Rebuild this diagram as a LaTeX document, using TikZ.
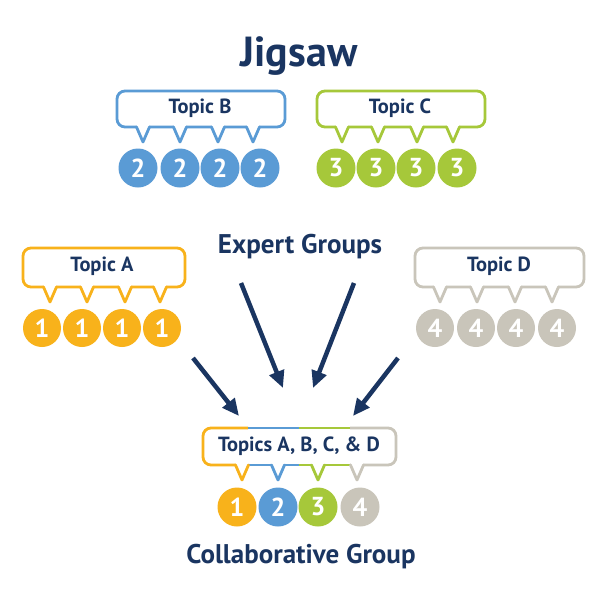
\documentclass[tikz,border=0pt]{standalone}
\usepackage{fontspec}
\setmainfont{PT Sans}
\usetikzlibrary{arrows.meta}
\definecolor{navy}{HTML}{1A3561}
\definecolor{cblue}{HTML}{5A9BD5}
\definecolor{cgreen}{HTML}{A6C83A}
\definecolor{corange}{HTML}{F8B21B}
\definecolor{cgray}{HTML}{C9C5BA}
\newcommand{\mybubble}[6]{%
  \fill[white, rounded corners=8] (#1,#2) rectangle (#3,#4);
  \draw[#5, line width=2.8, rounded corners=8] (#1,#2) rectangle (#3,#4);
  \foreach \t in {#6} {
    \fill[white] ({\t-6},{#4-2}) rectangle ({\t+6},{#4+2});
    \draw[#5, line width=2.8, line cap=round, line join=round] ({\t-6.5},#4) -- (\t,{#4+15}) -- ({\t+6.5},#4);
  }%
}
\newcommand{\mytail}[3]{% x, ybottom, color
  \fill[white] ({#1-6},{#2-2}) rectangle ({#1+6},{#2+2});
  \draw[#3, line width=2.8, line cap=round, line join=round] ({#1-6.5},#2) -- (#1,{#2+15}) -- ({#1+6.5},#2);
}
\begin{document}
\begin{tikzpicture}[x=1pt,y=-1pt,
  lbl/.style={text=navy, font=\bfseries\fontsize{20.5}{22}\selectfont, inner sep=0},
  head/.style={text=navy, font=\bfseries\fontsize{27}{29}\selectfont, inner sep=0, anchor=base},
  num/.style={circle, inner sep=0, minimum size=39, text=white, font=\bfseries\fontsize{26}{27}\selectfont},
  arr/.style={navy, line width=4.5, -{Triangle[length=17,width=15]}}]
\useasboundingbox (0,0) rectangle (600,600);
\fill[white] (0,0) rectangle (600,600);

% title
\node[head, font=\bfseries\fontsize{42}{44}\selectfont] (title) at (299,66) {Jigsaw};

% Topic B
\mybubble{117}{91}{285}{127}{cblue}{143,180,218,253}
\node[lbl] (tb) at (200,108) {Topic B};
\foreach \x [count=\i] in {138,180,220,260} \node[num, fill=cblue] (b\i) at (\x,168) {2};

% Topic C
\mybubble{317}{91}{485}{127}{cgreen}{342,378,417,453}
\node[lbl] (tc) at (400,108) {Topic C};
\foreach \x [count=\i] in {336,376,416,457} \node[num, fill=cgreen] (c\i) at (\x,168) {3};

% Topic A
\mybubble{23}{248}{185}{287}{corange}{50,87,125,160}
\node[lbl] (ta) at (102,266) {Topic A};
\foreach \x [count=\i] in {42,82,122,162} \node[num, fill=corange, minimum size=38] (a\i) at (\x,328) {1};

% Topic D
\mybubble{415}{248}{584}{287}{cgray}{440,477,515,552}
\node[lbl] (td) at (499,266) {Topic D};
\foreach \x [count=\i] in {435,476,516,557} \node[num, fill=cgray, minimum size=38] (d\i) at (\x,328) {4};

% Expert groups
\node[head] (expert) at (300,253) {Expert Groups};

% arrows
\coordinate (s1) at (193,358); \coordinate (e1) at (239,416);
\coordinate (s2) at (241,283); \coordinate (e2) at (283,388);
\coordinate (s3) at (354,283); \coordinate (e3) at (313,388);
\coordinate (s4) at (398,358); \coordinate (e4) at (353,416);
\draw[arr] (s1) -- (e1);
\draw[arr] (s2) -- (e2);
\draw[arr] (s3) -- (e3);
\draw[arr] (s4) -- (e4);

% collaborative bubble
\fill[white, rounded corners=8] (203,428) rectangle (396,465);
\draw[corange, line width=2.8, rounded corners=8] (248,428) -- (203,428) -- (203,465) -- (248,465);
\draw[cblue, line width=2.8] (248,428) -- (299,428) (248,465) -- (299,465);
\draw[cgreen, line width=2.8] (299,428) -- (350,428) (299,465) -- (350,465);
\draw[cgray, line width=2.8, rounded corners=8] (350,428) -- (396,428) -- (396,465) -- (350,465);
\mytail{242}{465}{corange}
\mytail{278}{465}{cblue}
\mytail{318}{465}{cgreen}
\mytail{357}{465}{cgray}
\node[lbl] (tall) at (299,446) {Topics A, B, C, \& D};
\node[num, fill=corange] (g1) at (237,507) {1};
\node[num, fill=cblue] (g2) at (278,507) {2};
\node[num, fill=cgreen] (g3) at (318,507) {3};
\node[num, fill=cgray] (g4) at (360,507) {4};

\node[head] (collab) at (301,563) {Collaborative Group};
\end{tikzpicture}
\end{document}
